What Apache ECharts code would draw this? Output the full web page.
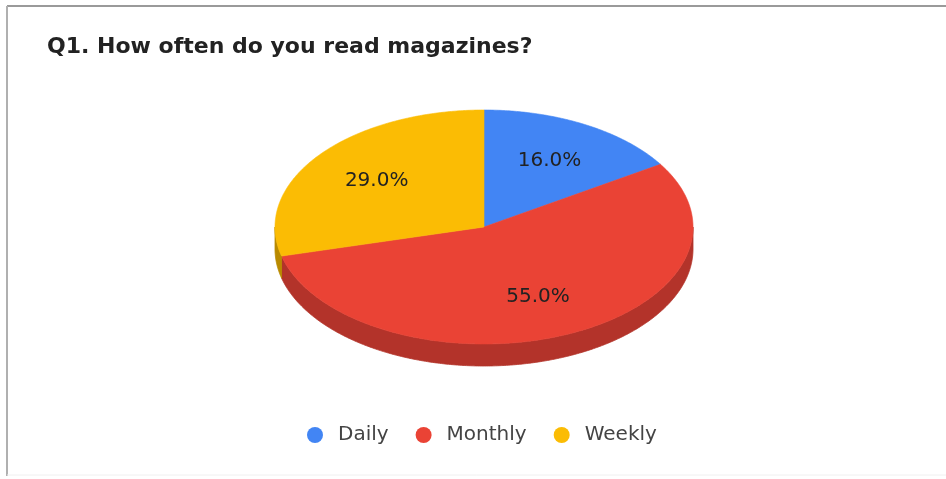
<!DOCTYPE html>
<html>
<head>
<meta charset="utf-8">
<script src="https://cdn.jsdelivr.net/npm/echarts@6/dist/echarts.min.js"></script>
<style>
  html, body { margin: 0; padding: 0; background: #ffffff; }
  #chart { width: 946px; height: 479px; }
</style>
</head>
<body>
<div id="chart"></div>
<script>
// Survey answers: share of respondents per reading frequency
const categories = ['Daily', 'Monthly', 'Weekly'];
const shares = [16.0, 55.0, 29.0];
const topColors = ['#4285F4', '#EA4335', '#FBBC04'];
const sideColors = ['#2f62b8', '#b3332a', '#b98a00'];

const titleText = 'Q1. How often do you read magazines?';

// Tilted pie geometry (pixels)
const CX = 484, CY = 227, RX = 209, RY = 117, DEPTH = 22;
const LABEL_R = 0.65;

const total = shares.reduce((a, b) => a + b, 0);
const startAngles = [];
let acc = 0;
shares.forEach(v => { startAngles.push(acc / total * 360); acc += v; });

// point on the tilted rim, angle measured clockwise from 12 o'clock
function rim(deg, dy) {
  const r = deg * Math.PI / 180;
  return [CX + RX * Math.sin(r), CY - RY * Math.cos(r) + (dy || 0)];
}
function arcPoints(a, b, dy) {
  const pts = [];
  const n = Math.max(2, Math.ceil((b - a) / 0.5));
  for (let i = 0; i <= n; i++) pts.push(rim(a + (b - a) * i / n, dy));
  return pts;
}

function makeRender(idx) {
  return function (params, api) {
    const value = api.value(0);
    const a = startAngles[idx];
    const b = a + value / total * 360;
    const children = [];
    // visible side wall: the part of the slice facing the viewer (90..270 deg)
    const fa = Math.max(a, 90), fb = Math.min(b, 270);
    if (fb > fa) {
      const upper = arcPoints(fa, fb, 0);
      const lower = arcPoints(fa, fb, DEPTH).reverse();
      children.push({
        type: 'polygon',
        shape: { points: upper.concat(lower) },
        style: { fill: sideColors[idx], stroke: sideColors[idx], lineWidth: 0.8 }
      });
    }
    // top face of the slice
    children.push({
      type: 'polygon',
      shape: { points: [[CX, CY]].concat(arcPoints(a, b, 0)) },
      style: { fill: topColors[idx], stroke: topColors[idx], lineWidth: 0.6 }
    });
    // percentage label
    const mid = (a + b) / 2 * Math.PI / 180;
    children.push({
      type: 'text',
      z2: 10,
      style: {
        text: value.toFixed(1) + '%',
        x: CX + LABEL_R * RX * Math.sin(mid),
        y: CY - LABEL_R * RY * Math.cos(mid),
        align: 'center',
        verticalAlign: 'middle',
        fill: '#222222',
        font: '20px "DejaVu Sans", sans-serif'
      }
    });
    return { type: 'group', children: children };
  };
}

const series = categories.map((name, i) => ({
  type: 'custom',
  name: name,
  coordinateSystem: 'none',
  itemStyle: { color: topColors[i] },
  data: [[shares[i]]],
  renderItem: makeRender(i),
  silent: true
}));

const chart = echarts.init(document.getElementById('chart'), null, { renderer: 'canvas' });
chart.setOption({
  backgroundColor: '#ffffff',
  animation: false,
  title: {
    text: titleText,
    left: 47,
    top: 36,
    padding: 0,
    textStyle: {
      fontFamily: '"DejaVu Sans", sans-serif',
      fontWeight: 'bold',
      fontSize: 22,
      color: '#222222'
    }
  },
  legend: {
    data: categories,
    left: 307,
    top: 425,
    padding: 0,
    icon: 'circle',
    itemWidth: 16,
    itemHeight: 16,
    itemGap: 27,
    textStyle: {
      fontFamily: '"DejaVu Sans", sans-serif',
      fontSize: 20,
      color: '#444444',
      padding: [0, 0, 0, 10]
    }
  },
  graphic: [
    { type: 'line', shape: { x1: 7, y1: 6, x2: 946, y2: 6 }, style: { stroke: '#9a9a9a', lineWidth: 2 } },
    { type: 'line', shape: { x1: 7, y1: 6, x2: 7, y2: 476 }, style: { stroke: '#b0b0b0', lineWidth: 2 } },
    { type: 'line', shape: { x1: 7, y1: 475, x2: 946, y2: 475 }, style: { stroke: '#f0f0f0', lineWidth: 1 } }
  ],
  series: series
});
</script>
</body>
</html>
